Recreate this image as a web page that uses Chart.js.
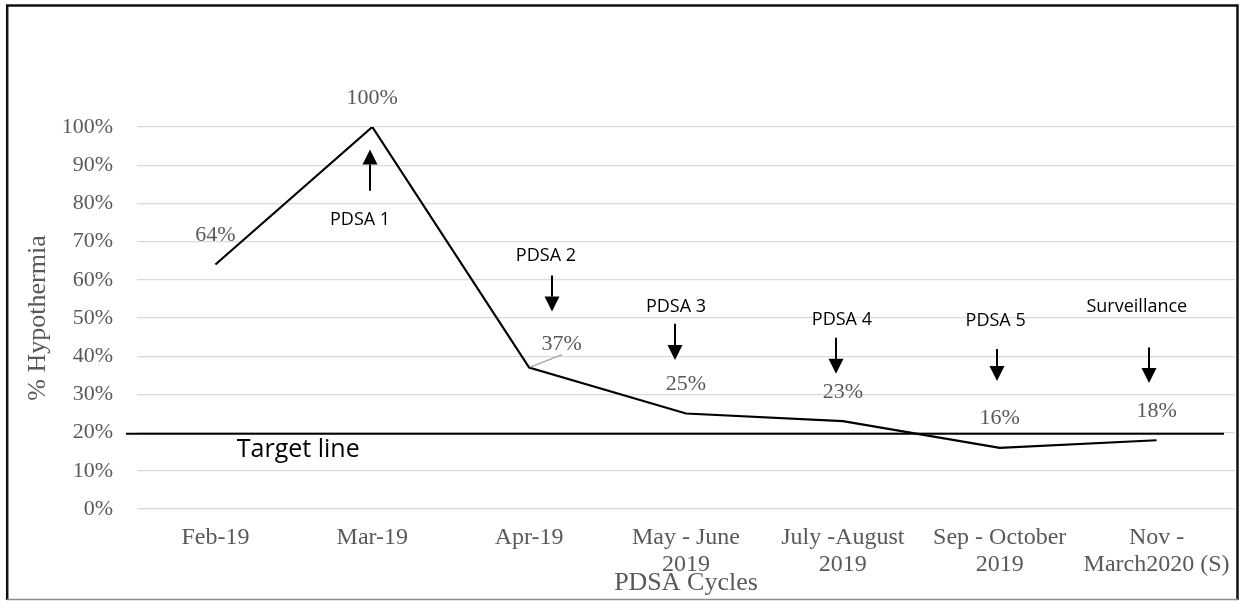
<!DOCTYPE html>
<html>
<head>
<meta charset="utf-8">
<script src="https://cdn.jsdelivr.net/npm/chart.js@4.4.1/dist/chart.umd.min.js"></script>
<style>
  html, body { margin: 0; padding: 0; background: #fff; }
  #wrap { position: relative; width: 1240px; height: 601px; }
</style>
</head>
<body>
<div id="wrap"><canvas id="c" width="1240" height="601"></canvas></div>
<script>
// ---- data ----
const categories = [
  "Feb-19",
  "Mar-19",
  "Apr-19",
  ["May - June", "2019"],
  ["July -August", "2019"],
  ["Sep - October", "2019"],
  ["Nov -", "March2020 (S)"]
];
const hypothermiaPct = [64, 100, 37, 25, 23, 16, 18];
const targetValue = 19.7;
const yTicks = [0, 10, 20, 30, 40, 50, 60, 70, 80, 90, 100];
const cycleLabels = ["PDSA 1", "PDSA 2", "PDSA 3", "PDSA 4", "PDSA 5", "Surveillance"];
const cycleIndex = [1, 2, 3, 4, 5, 6];

// ---- annotation layout (styling, not data) ----
// text: [category offset, baseline y value]; arrow: [category offset, tail value, tip value]
const cycleTextPos = [[-0.078, 74.4], [0.107, 65.0], [-0.064, 51.7], [-0.006, 48.2], [-0.026, 47.8], [-0.126, 51.7]];
const cycleArrowPos = [[-0.016, 83.3, 94.1], [0.143, 61.1, 51.7], [-0.069, 48.5, 39.0], [-0.044, 44.8, 35.4], [-0.019, 41.9, 33.5], [-0.05, 42.3, 33.0]];

const SERIF = "'Liberation Serif', 'Times New Roman', serif";
const SANS = "'Open Sans', 'Liberation Sans', sans-serif";
const GREY = "#595959";

const decorPlugin = {
  id: 'decor',
  afterDatasetsDraw(chart) {
    const ctx = chart.ctx;
    const xs = chart.scales.x, ys = chart.scales.y;
    const area = chart.chartArea;
    const step = xs.getPixelForValue(1) - xs.getPixelForValue(0);
    ctx.save();
    // target line
    const ty = ys.getPixelForValue(targetValue);
    ctx.strokeStyle = '#000';
    ctx.lineWidth = 2;
    ctx.beginPath();
    ctx.moveTo(area.left - 11, ty);
    ctx.lineTo(area.right - 11, ty);
    ctx.stroke();
    ctx.fillStyle = '#000';
    ctx.font = "25px " + SANS;
    ctx.textAlign = 'center';
    ctx.textBaseline = 'alphabetic';
    ctx.fillText("Target line", xs.getPixelForValue(0) + 0.528 * step, ty + 23.5);

    // data labels
    const meta = chart.getDatasetMeta(0);
    ctx.font = "22px " + SERIF;
    ctx.fillStyle = GREY;
    meta.data.forEach((pt, i) => {
      let lx = pt.x, ly = pt.y - 23.5;
      if (i === 2) {
        lx = pt.x + 32.5; ly = pt.y - 17.3;
        ctx.strokeStyle = '#a6a6a6';
        ctx.lineWidth = 1.3;
        ctx.beginPath();
        ctx.moveTo(pt.x + 1, pt.y - 0.5);
        ctx.lineTo(pt.x + 33, pt.y - 13);
        ctx.stroke();
      }
      ctx.fillText(hypothermiaPct[i] + "%", lx, ly);
    });

    // cycle annotations
    ctx.font = "18px " + SANS;
    ctx.fillStyle = '#000';
    cycleLabels.forEach((t, k) => {
      const idx = cycleIndex[k];
      const tp = cycleTextPos[k];
      ctx.fillText(t, xs.getPixelForValue(idx) + tp[0] * step, ys.getPixelForValue(tp[1]));
      const ap = cycleArrowPos[k];
      const ax = Math.round(xs.getPixelForValue(idx) + ap[0] * step);
      const y1 = ys.getPixelForValue(ap[1]);
      const y2 = ys.getPixelForValue(ap[2]);
      const dir = y2 > y1 ? 1 : -1;
      const headLen = 15, headHalf = 7.5;
      ctx.strokeStyle = '#000';
      ctx.lineWidth = 2;
      ctx.beginPath();
      ctx.moveTo(ax, y1);
      ctx.lineTo(ax, y2 - dir * headLen);
      ctx.stroke();
      ctx.beginPath();
      ctx.moveTo(ax, y2);
      ctx.lineTo(ax - headHalf, y2 - dir * headLen);
      ctx.lineTo(ax + headHalf, y2 - dir * headLen);
      ctx.closePath();
      ctx.fill();
    });

    // outer border
    ctx.lineWidth = 2.5;
    ctx.strokeStyle = '#111';
    ctx.beginPath();
    ctx.moveTo(7.2, 600);
    ctx.lineTo(7.2, 5.5);
    ctx.lineTo(1237.5, 5.5);
    ctx.lineTo(1237.5, 600);
    ctx.stroke();
    ctx.lineWidth = 1.5;
    ctx.strokeStyle = '#8c8c8c';
    ctx.beginPath();
    ctx.moveTo(7, 599.5);
    ctx.lineTo(1238, 599.5);
    ctx.stroke();
    ctx.restore();
  }
};

new Chart(document.getElementById('c'), {
  type: 'line',
  data: {
    labels: categories,
    datasets: [{
      data: hypothermiaPct,
      borderColor: '#000',
      borderWidth: 2.2,
      pointRadius: 0,
      pointHoverRadius: 0,
      tension: 0,
      fill: false
    }]
  },
  options: {
    responsive: false,
    animation: false,
    events: [],
    layout: { padding: { left: 0, right: 5, top: 127, bottom: 0 } },
    plugins: { legend: { display: false }, tooltip: { enabled: false } },
    scales: {
      x: {
        offset: true,
        grid: { display: false, drawTicks: false },
        border: { display: false },
        ticks: {
          color: GREY,
          font: { family: SERIF, size: 24, lineHeight: 1.12 },
          padding: 15,
          maxRotation: 0,
          autoSkip: false
        },
        title: {
          display: true,
          text: "PDSA Cycles",
          color: GREY,
          font: { family: SERIF, size: 26 },
          padding: { top: 0, bottom: 2 }
        },
        afterFit(scale) {
          scale.height = 92;
          scale.paddingLeft = 0;
          scale.paddingRight = 0;
        }
      },
      y: {
        min: 0,
        max: 100,
        afterBuildTicks(scale) { scale.ticks = yTicks.map(v => ({ value: v })); },
        grid: { color: '#d9d9d9', lineWidth: 1.3, drawTicks: false },
        border: { display: false },
        ticks: {
          color: GREY,
          font: { family: SERIF, size: 22 },
          padding: 24,
          callback: v => v + "%"
        },
        title: {
          display: true,
          text: "% Hypothermia",
          color: GREY,
          font: { family: SERIF, size: 26 },
          padding: { top: 23, bottom: 0 }
        },
        afterFit(scale) {
          scale.width = 137;
          scale.paddingTop = 0;
          scale.paddingBottom = 0;
        }
      }
    }
  },
  plugins: [decorPlugin]
});
</script>
</body>
</html>
